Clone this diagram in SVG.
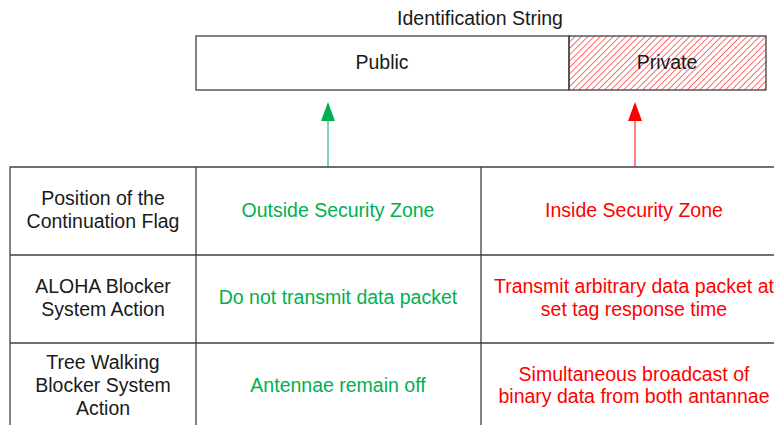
<svg xmlns="http://www.w3.org/2000/svg" width="774" height="425" viewBox="0 0 774 425">
<style>
text{font-family:"Liberation Sans",Arial,sans-serif;font-size:19.5px;text-anchor:middle}
.k{fill:#1a1a1a}.g{fill:#00B050}.r{fill:#FF0000}
.ln{stroke:#404040;stroke-width:1.3;fill:none}
</style>
<defs>
<pattern id="hatch" patternUnits="userSpaceOnUse" width="4.5" height="4.5" patternTransform="rotate(45)">
<line x1="0" y1="0" x2="0" y2="4.5" stroke="#FF3030" stroke-width="1.4"/>
</pattern>
</defs>
<rect width="774" height="425" fill="#ffffff"/>
<g id="title"><text class="k" x="480" y="25">Identification String</text></g>
<g id="public"><rect class="ln" x="196" y="36" width="373" height="54"/><text class="k" x="382" y="69">Public</text></g>
<g id="private"><rect x="569" y="36" width="197" height="54" fill="url(#hatch)" stroke="#404040" stroke-width="1.3"/><text class="k" x="667" y="69">Private</text></g>
<g id="connectors">
<line x1="328" y1="167" x2="328" y2="118" stroke="#00B050" stroke-width="1"/>
<path d="M328 102 L335 121 L321 121 Z" fill="#00B050"/>
<line x1="635" y1="167" x2="635" y2="118" stroke="#FF0000" stroke-width="1"/>
<path d="M635 102 L642 121 L628 121 Z" fill="#FF0000"/>
</g>
<g id="table">
<path class="ln" d="M10 430 V167 H790 M10 255 H790 M10 343 H790 M196 167 V430 M481 167 V430"/>
</g>
<g id="row1">
<text class="k" x="103" y="205">Position of the</text>
<text class="k" x="103" y="228">Continuation Flag</text>
<text class="g" x="338" y="217">Outside Security Zone</text>
<text class="r" x="634" y="217">Inside Security Zone</text>
</g>
<g id="row2">
<text class="k" x="103" y="293">ALOHA Blocker</text>
<text class="k" x="103" y="316">System Action</text>
<text class="g" x="338" y="304">Do not transmit data packet</text>
<text class="r" x="634" y="293">Transmit arbitrary data packet at</text>
<text class="r" x="634" y="316">set tag response time</text>
</g>
<g id="row3">
<text class="k" x="103" y="369">Tree Walking</text>
<text class="k" x="103" y="392">Blocker System</text>
<text class="k" x="103" y="415">Action</text>
<text class="g" x="338" y="392">Antennae remain off</text>
<text class="r" x="634" y="381">Simultaneous broadcast of</text>
<text class="r" x="634" y="403">binary data from both antannae</text>
</g>
</svg>
